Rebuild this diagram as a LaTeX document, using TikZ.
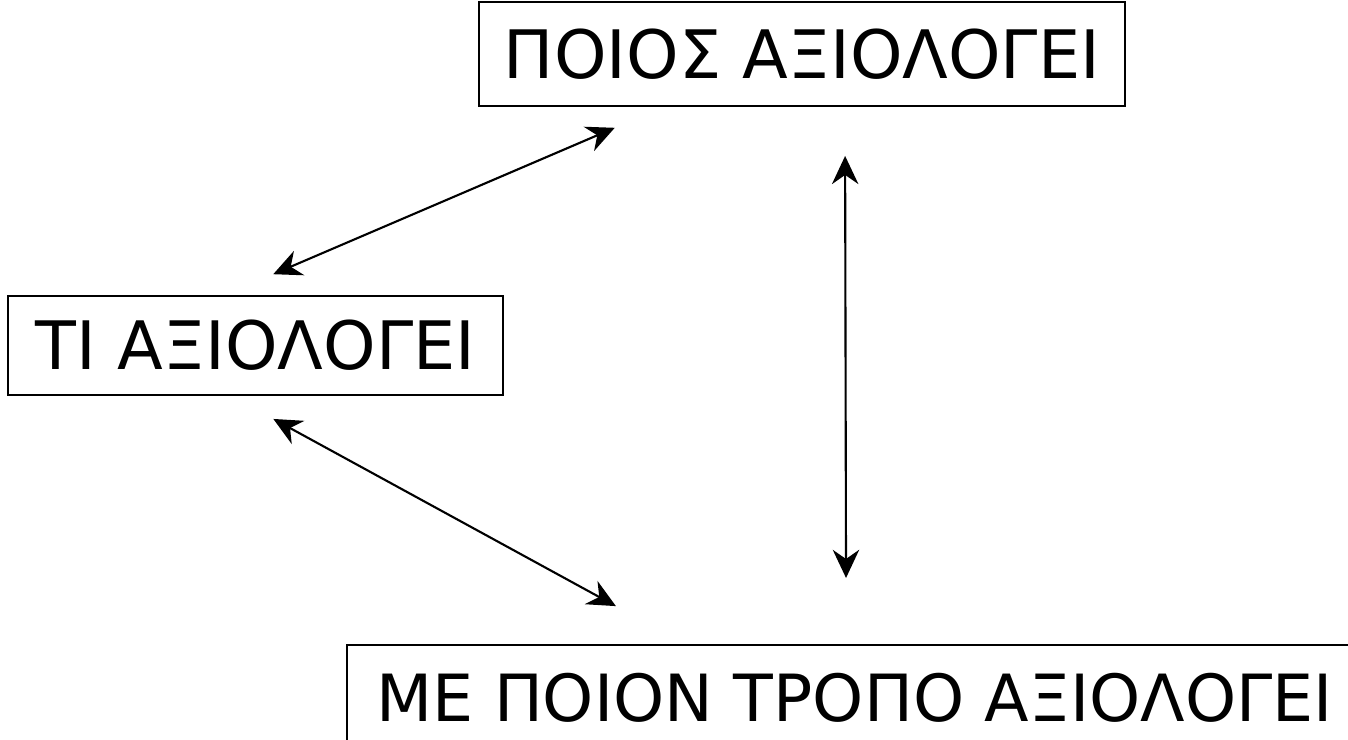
\documentclass[tikz,border=0pt]{standalone}
\usepackage{fontspec}
\setmainfont{DejaVu Sans}
\usetikzlibrary{arrows.meta,calc}

\tikzset{
	caja/.style={draw, line width=0.5pt, inner sep=0pt, font=\fontsize{19}{23}\selectfont},
	enlace/.style={line width=0.6pt, {Stealth[length=8pt,width=7.5pt]}-{Stealth[length=8pt,width=7.5pt]}}
}

\begin{document}
\begin{tikzpicture}[x=0.01cm,y=-0.01cm]
		%MARCO
		\clip (0,0) rectangle (1348,739);
		\useasboundingbox (0,0) rectangle (1348,739);

		%CAJAS
		\node[caja, minimum width=6.46cm, minimum height=1.04cm] (quien) at (802,54) {ΠΟΙΟΣ ΑΞΙΟΛΟΓΕΙ};
		\node[caja, minimum width=4.95cm, minimum height=0.99cm] (que) at (255.5,345.5) {ΤΙ ΑΞΙΟΛΟΓΕΙ};
		\node[caja, anchor=north west, minimum width=10.15cm, minimum height=1.06cm, font=\fontsize{18.5}{22}\selectfont] (como) at (346,644) {ΜΕ ΠΟΙΟΝ ΤΡΟΠΟ ΑΞΙΟΛΟΓΕΙ};

		%FLECHAS
		\draw[enlace, shorten <=0.53cm, shorten >=0.53cm] ($(que.north)+(-31,0)$) -- ($(quien.south)+(-138.5,0)$);
		\draw[enlace, shorten <=0.49cm, shorten >=0.66cm] ($(quien.south)+(43,0)$) -- ($(como.north)+(-8.5,0)$);
		\draw[enlace, shorten <=0.48cm, shorten >=0.79cm] ($(que.south)+(-24.3,0)$) -- ($(como.north)+(-169.4,0)$);
	\end{tikzpicture}
\end{document}
